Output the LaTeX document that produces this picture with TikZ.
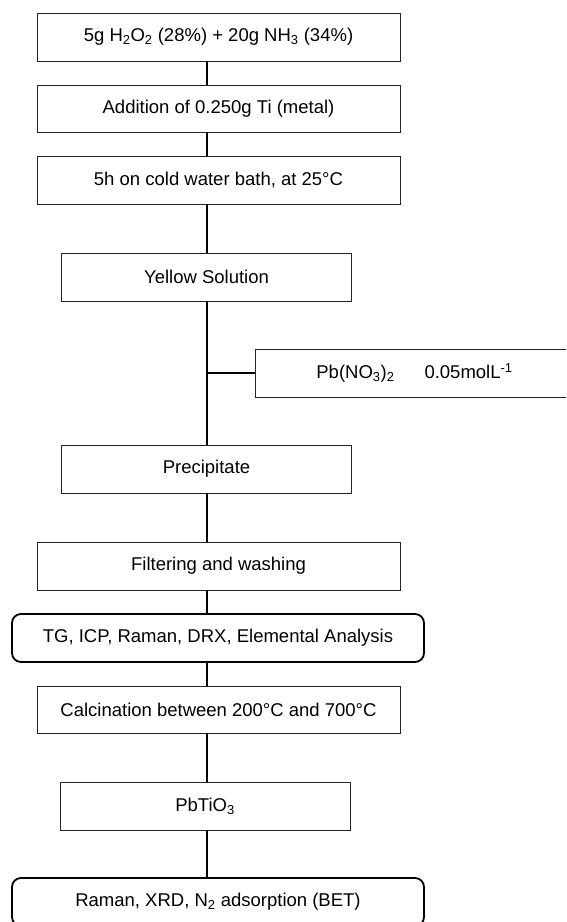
\documentclass[tikz,border=0pt]{standalone}
\usepackage{fontspec}
\setmainfont{Liberation Sans}
\begin{document}
\begin{tikzpicture}[x=1pt,y=-1pt,
  box/.style={draw=black!85, line width=0.8pt, minimum height=48pt, inner sep=0pt,
              font=\fontsize{18.5}{22}\selectfont},
  widebox/.style={box, minimum width=363pt},
  narrowbox/.style={box, minimum width=290pt},
  roundbox/.style={box, rounded corners=9pt, line width=1.8pt, draw=black, minimum width=412pt},
  link/.style={line width=1.5pt, draw=black}]
\useasboundingbox (0,0) rectangle (566,922);
\clip (0,0) rectangle (566,922);
\coordinate (axis) at (207,0);

% process steps
\node[widebox] (b1) at (218.5,37) {5g H\textsubscript{2}O\textsubscript{2} (28\%) + 20g NH\textsubscript{3} (34\%)};
\node[widebox, minimum height=47pt] (b2) at (218.5,108.5) {Addition of 0.250g Ti (metal)};
\node[widebox] (b3) at (218.5,180) {5h on cold water bath, at 25°C};
\node[narrowbox] (yellow) at (206.5,277) {Yellow Solution};
\node[box, anchor=west, minimum width=340pt, text width=218pt, inner xsep=61pt, align=left]
  (pb) at (255,373) {Pb(NO\textsubscript{3})\textsubscript{2}\hspace{30pt}0.05molL\textsuperscript{-1}};
\node[narrowbox] (precip) at (206.5,469) {Precipitate};
\node[widebox] (filter) at (218.5,566) {Filtering and washing};
\node[roundbox] (tg) at (218,638) {TG, ICP, Raman, DRX, Elemental Analysis};
\node[widebox, minimum height=47pt] (calc) at (218.5,709.5) {Calcination between 200°C and 700°C};
\node[narrowbox] (pbtio) at (205,806) {PbTiO\textsubscript{3}};
\node[roundbox] (raman) at (218,902) {Raman, XRD, N\textsubscript{2} adsorption (BET)};

% connectors along the main axis
\draw[link] (b1.south -| axis) -- (b2.north -| axis);
\draw[link] (b2.south -| axis) -- (b3.north -| axis);
\draw[link] (b3.south -| axis) -- (yellow.north -| axis);
\draw[link] (yellow.south -| axis) -- (precip.north -| axis);
\draw[link] (pb.west -| axis) -- (pb.west);
\draw[link] (precip.south -| axis) -- (filter.north -| axis);
\draw[link] (filter.south -| axis) -- (tg.north -| axis);
\draw[link] (tg.south -| axis) -- (calc.north -| axis);
\draw[link] (calc.south -| axis) -- (pbtio.north -| axis);
\draw[link] (pbtio.south -| axis) -- (raman.north -| axis);
\end{tikzpicture}
\end{document}
